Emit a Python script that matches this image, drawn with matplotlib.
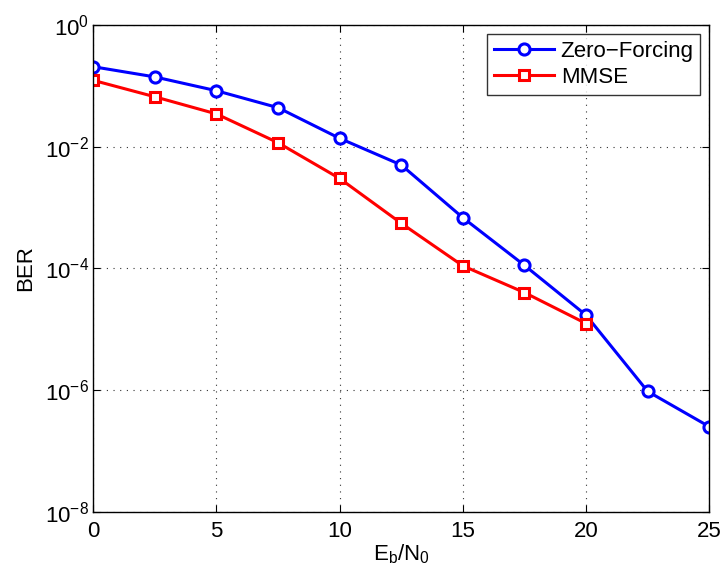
import numpy as np
import matplotlib.pyplot as plt

# Eb/N0 in dB
snr_zf = [0, 2.5, 5, 7.5, 10, 12.5, 15, 17.5, 20, 22.5, 25]
ber_zf = [0.206, 0.14, 0.083, 0.0437, 0.0137, 0.005, 6.8e-4, 1.12e-4, 1.7e-5, 9.5e-7, 2.5e-7]

snr_mmse = [0, 2.5, 5, 7.5, 10, 12.5, 15, 17.5, 20]
ber_mmse = [0.123, 0.066, 0.0345, 0.0116, 0.003, 5.5e-4, 1.1e-4, 4.0e-5, 1.24e-5]

plt.rcParams['font.family'] = ['Liberation Sans', 'DejaVu Sans']
plt.rcParams['mathtext.fontset'] = 'custom'
plt.rcParams['mathtext.rm'] = 'Liberation Sans'
plt.rcParams['mathtext.it'] = 'Liberation Sans'

fig = plt.figure(figsize=(7.23, 5.74), dpi=100)
ax = fig.add_axes([0.129, 0.1085, 0.852, 0.848])

ax.semilogy(snr_zf, ber_zf, '-o', color='#0000ff', lw=2.2, ms=8,
            mfc='white', mew=2.2, label='Zero\u2212Forcing')
ax.semilogy(snr_mmse, ber_mmse, '-s', color='#ff0000', lw=2.2, ms=7,
            mfc='white', mew=2.2, label='MMSE')

ax.set_xlim(0, 25)
ax.set_ylim(1e-8, 1)
ax.set_xticks([0, 5, 10, 15, 20, 25])
ax.set_yticks([1e-8, 1e-6, 1e-4, 1e-2, 1])
ax.minorticks_off()
ax.tick_params(direction='in', top=True, right=True, labelsize=16, length=5, width=0.8)
ax.tick_params(axis='x', pad=7)
ax.tick_params(axis='y', pad=3)
ax.grid(True, linestyle=(0, (1, 5)), color='#333333', linewidth=0.8)
for s in ax.spines.values():
    s.set_linewidth(1.0)

ax.set_xlabel(r'E$_\mathrm{b}$/N$_0$', fontsize=16, labelpad=0)
ax.set_ylabel('BER', fontsize=16, labelpad=6)

leg = ax.legend(loc='upper right', fontsize=16, fancybox=False, edgecolor='black',
                handlelength=2.7, borderaxespad=0.4, borderpad=0.3, labelspacing=0.25,
                handletextpad=0.3)
leg.get_frame().set_linewidth(1.0)

fig.savefig('out.png', dpi=100)
